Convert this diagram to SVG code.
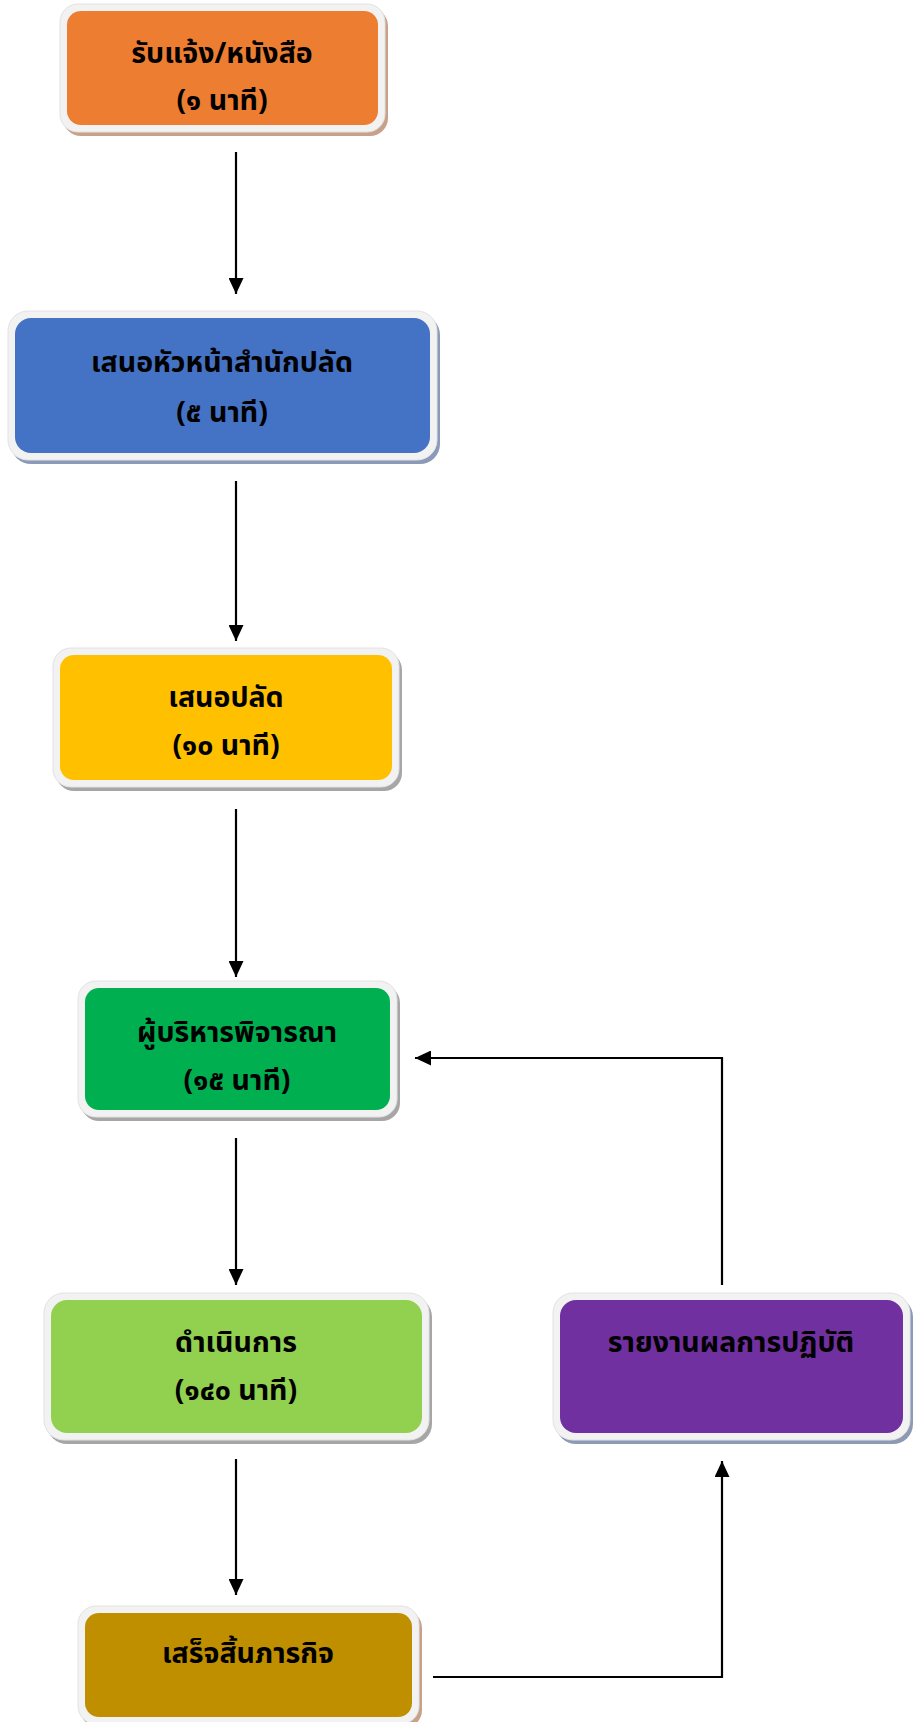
<svg xmlns="http://www.w3.org/2000/svg" width="924" height="1722" viewBox="0 0 924 1722">
  <defs>
    <style>
      .frame { fill: #f2f2f2; stroke: #e2e2e2; stroke-width: 1; }
      .label { font-family: "Noto Sans Thai", "Noto Sans", "DejaVu Sans", sans-serif; font-weight: bold; font-size: 28.5px; fill: #000; text-anchor: middle; }
      .conn { fill: none; stroke: #000; stroke-width: 2.2; }
    </style>
    <marker id="arrow" viewBox="0 0 16 15" refX="16" refY="7.5" markerWidth="16" markerHeight="15" markerUnits="userSpaceOnUse" orient="auto">
      <path d="M0,0 L16,7.5 L0,15 Z" fill="#000"/>
    </marker>
  </defs>

  <rect width="924" height="1722" fill="#fff"/>

  <!-- step 1: receive notice -->
  <g id="node-receive">
    <rect x="63" y="8" width="325" height="128" rx="18" fill="#c9a088"/>
    <rect class="frame" x="60" y="4" width="325" height="128" rx="18"/>
    <rect x="67" y="11" width="311" height="114" rx="14" fill="#ed7d31"/>
    <text class="label" x="222" y="63">รับแจ้ง/หนังสือ</text>
    <text class="label" x="222" y="110">(๑ นาที)</text>
  </g>

  <!-- step 2: present to office head -->
  <g id="node-office-head">
    <rect x="11" y="315" width="429" height="149" rx="20" fill="#8a9ab8"/>
    <rect class="frame" x="8" y="311" width="429" height="149" rx="20"/>
    <rect x="15" y="318" width="415" height="135" rx="16" fill="#4472c4"/>
    <text class="label" x="222" y="372">เสนอหัวหน้าสำนักปลัด</text>
    <text class="label" x="222" y="422">(๕ นาที)</text>
  </g>

  <!-- step 3: present to deputy -->
  <g id="node-deputy">
    <rect x="56" y="652" width="346" height="139" rx="18" fill="#a6a6a6"/>
    <rect class="frame" x="53" y="648" width="346" height="139" rx="18"/>
    <rect x="60" y="655" width="332" height="125" rx="14" fill="#ffc000"/>
    <text class="label" x="226" y="707">เสนอปลัด</text>
    <text class="label" x="226" y="755">(๑๐ นาที)</text>
  </g>

  <!-- step 4: executive review -->
  <g id="node-review">
    <rect x="81" y="985" width="319" height="136" rx="18" fill="#a6a6a6"/>
    <rect class="frame" x="78" y="981" width="319" height="136" rx="18"/>
    <rect x="85" y="988" width="305" height="122" rx="14" fill="#00b050"/>
    <text class="label" x="237" y="1042">ผู้บริหารพิจารณา</text>
    <text class="label" x="237" y="1090">(๑๕ นาที)</text>
  </g>

  <!-- step 5: carry out -->
  <g id="node-operate">
    <rect x="47" y="1297" width="385" height="147" rx="20" fill="#a6a6a6"/>
    <rect class="frame" x="44" y="1293" width="385" height="147" rx="20"/>
    <rect x="51" y="1300" width="371" height="133" rx="16" fill="#92d050"/>
    <text class="label" x="236" y="1352">ดำเนินการ</text>
    <text class="label" x="236" y="1400">(๑๔๐ นาที)</text>
  </g>

  <!-- step 6: report results -->
  <g id="node-report">
    <rect x="556" y="1297" width="357" height="147" rx="20" fill="#8e9ab4"/>
    <rect class="frame" x="553" y="1293" width="357" height="147" rx="20"/>
    <rect x="560" y="1300" width="343" height="133" rx="16" fill="#7030a0"/>
    <text class="label" x="731" y="1352">รายงานผลการปฏิบัติ</text>
  </g>

  <!-- step 7: task complete -->
  <g id="node-complete">
    <rect x="81" y="1610" width="341" height="118" rx="18" fill="#c9a088"/>
    <rect class="frame" x="78" y="1606" width="341" height="118" rx="18"/>
    <rect x="85" y="1613" width="327" height="104" rx="14" fill="#bf8f00"/>
    <text class="label" x="248" y="1663">เสร็จสิ้นภารกิจ</text>
  </g>

  <!-- connectors -->
  <g id="connectors">
    <line class="conn" x1="236" y1="152" x2="236" y2="294" marker-end="url(#arrow)"/>
    <line class="conn" x1="236" y1="481" x2="236" y2="641" marker-end="url(#arrow)"/>
    <line class="conn" x1="236" y1="809" x2="236" y2="977" marker-end="url(#arrow)"/>
    <line class="conn" x1="236" y1="1138" x2="236" y2="1285" marker-end="url(#arrow)"/>
    <line class="conn" x1="236" y1="1459" x2="236" y2="1595" marker-end="url(#arrow)"/>
    <polyline class="conn" points="433,1677 722,1677 722,1461" marker-end="url(#arrow)"/>
    <polyline class="conn" points="722,1285 722,1058 415,1058" marker-end="url(#arrow)"/>
  </g>
</svg>
